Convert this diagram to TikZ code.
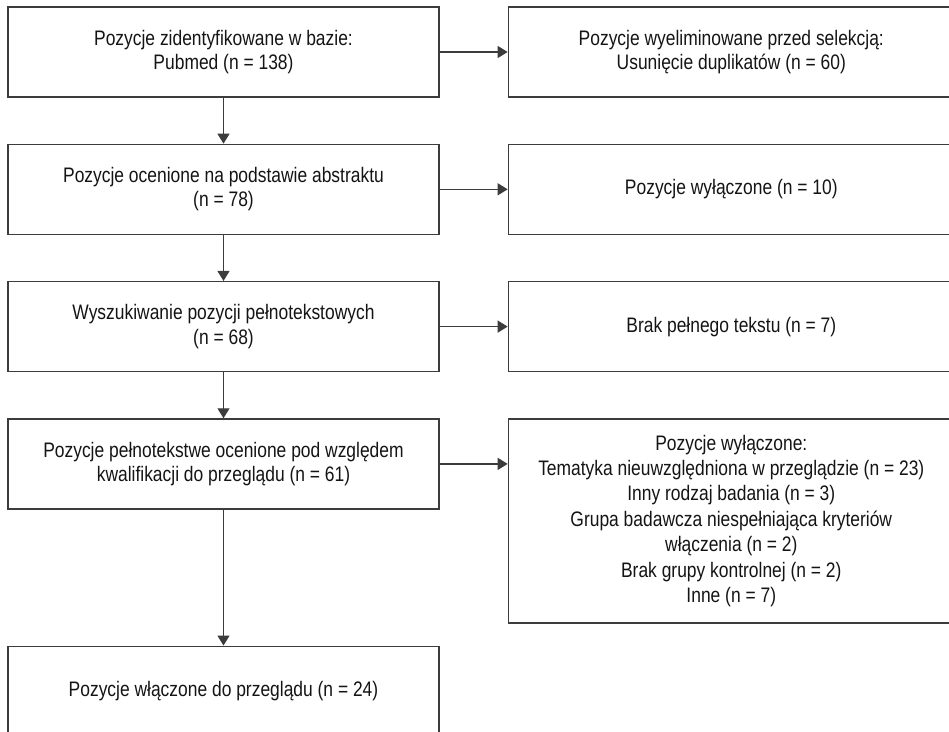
\documentclass[tikz,border=0pt]{standalone}
\usepackage{fontspec}
\setmainfont{Liberation Sans}[FakeStretch=0.83]
\usepackage{tikz}
\usetikzlibrary{arrows.meta,positioning,calc}
\definecolor{framegray}{RGB}{60,60,60}
\definecolor{inkgray}{RGB}{20,20,20}

\begin{document}
\begin{tikzpicture}[
    x=1pt, y=1pt,
    node distance=46pt and 68pt,
    box/.style={rectangle, draw=framegray, line width=1.3pt, minimum width=431pt, minimum height=90pt, inner sep=0pt, align=center, text=inkgray, font=\fontsize{21}{24.5}\selectfont},
    sidebox/.style={box, minimum width=446pt},
    arr/.style={-{Triangle[length=10pt,width=12pt]}, draw=framegray, line width=1.3pt}
]
    \clip (0,0) rectangle (949,-731);

    \node[box] (found) at (223.5,-52) {Pozycje zidentyfikowane w bazie:\\Pubmed (n = 138)};
    \node[box, below=of found] (abstract) {Pozycje ocenione na podstawie abstraktu\\(n = 78)};
    \node[box, below=of abstract] (search) {Wyszukiwanie pozycji pełnotekstowych\\(n = 68)};
    \node[box, below=of search] (fulltext) {Pozycje pełnotekstwe ocenione pod względem\\kwalifikacji do przeglądu (n = 61)};
    \node[box, below=136pt of fulltext] (included) {Pozycje włączone do przeglądu (n = 24)};

    \node[sidebox, right=of found] (dupl) {Pozycje wyeliminowane przed selekcją:\\Usunięcie duplikatów (n = 60)};
    \node[sidebox, right=of abstract] (excl) {Pozycje wyłączone (n = 10)};
    \node[sidebox, right=of search] (notext) {Brak pełnego tekstu (n = 7)};
    \node[sidebox, minimum height=204pt, font=\fontsize{21}{25.4}\selectfont, below right=0pt and 68pt of fulltext.north east] (reasons) {Pozycje wyłączone:\\Tematyka nieuwzględniona w przeglądzie (n = 23)\\Inny rodzaj badania (n = 3)\\Grupa badawcza niespełniająca kryteriów\\włączenia (n = 2)\\Brak grupy kontrolnej (n = 2)\\Inne (n = 7)};

    \draw[arr] (found) -- (abstract);
    \draw[arr] (abstract) -- (search);
    \draw[arr] (search) -- (fulltext);
    \draw[arr] (fulltext) -- (included);

    \draw[arr] (found) -- (dupl);
    \draw[arr] (abstract) -- (excl);
    \draw[arr] (search) -- (notext);
    \draw[arr] (fulltext.east) -- (fulltext.east -| reasons.west);
\end{tikzpicture}
\end{document}
